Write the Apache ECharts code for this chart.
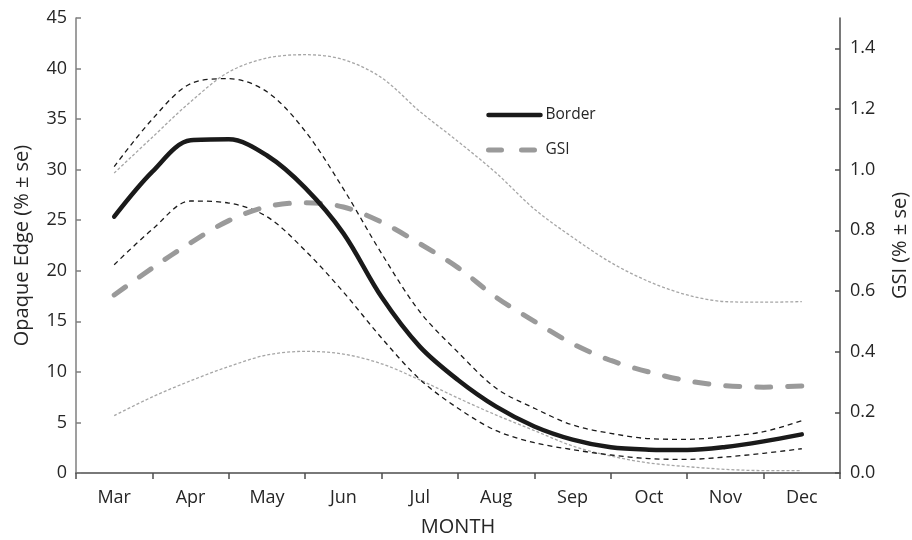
<!DOCTYPE html>
<html>
<head>
<meta charset="utf-8">
<script src="https://cdn.jsdelivr.net/npm/echarts@6/dist/echarts.min.js"></script>
<style>
  html, body { margin: 0; padding: 0; background: #fff; }
  #chart { width: 912px; height: 540px; }
</style>
</head>
<body>
<div id="chart"></div>
<script>
// Month categories shown on the x axis
const months = ['Mar', 'Apr', 'May', 'Jun', 'Jul', 'Aug', 'Sep', 'Oct', 'Nov', 'Dec'];

// Sample positions (month index, mid-month and month boundaries)
const samplePos = [0, 0.5, 1, 1.5, 2, 2.5, 3, 3.5, 4, 4.5, 5, 5.5, 6, 6.5, 7, 7.5, 8, 8.5, 9];

// Opaque edge (border), % with upper/lower standard error bounds
const border      = [25.35, 29.8, 32.9, 33.0, 31.4, 28.2, 23.7, 17.4, 12.5, 9.2, 6.56, 4.6, 3.3, 2.54, 2.31, 2.27, 2.57, 3.13, 3.82];
const borderUpper = [30.3, 35.0, 38.5, 39.0, 37.7, 33.8, 28.1, 21.7, 15.95, 11.94, 8.38, 6.4, 4.75, 3.92, 3.4, 3.33, 3.6, 4.09, 5.17];
const borderLower = [20.6, 24.1, 26.9, 26.7, 25.35, 22.0, 17.9, 13.35, 9.27, 6.4, 4.19, 3.0, 2.31, 1.78, 1.42, 1.35, 1.58, 1.95, 2.4];

// Gonadosomatic index, % with upper/lower standard error bounds
const gsi      = [0.587, 0.676, 0.759, 0.832, 0.878, 0.891, 0.877, 0.827, 0.756, 0.677, 0.579, 0.50, 0.426, 0.371, 0.333, 0.304, 0.288, 0.283, 0.287];
const gsiUpper = [0.989, 1.107, 1.224, 1.322, 1.368, 1.379, 1.363, 1.303, 1.192, 1.093, 0.989, 0.87, 0.777, 0.694, 0.631, 0.587, 0.565, 0.563, 0.565];
const gsiLower = [0.189, 0.251, 0.304, 0.351, 0.389, 0.401, 0.392, 0.36, 0.307, 0.247, 0.191, 0.14, 0.089, 0.056, 0.033, 0.021, 0.012, 0.008, 0.008];

const leftTicks = { min: 0, max: 45, interval: 5 };
const rightTicks = { min: 0, max: 1.5, interval: 0.2 };

const FONT = 'Open Sans';
const TEXT = '#262626';
const BLACK = '#1a1a1a';
const GREY = '#9a9a9a';
const LIGHT = '#a6a6a6';

function pairs(values) {
  return values.map((v, i) => [samplePos[i], v]);
}

function lineSeries(name, values, yAxisIndex, color, style, z) {
  return {
    name: name,
    type: 'line',
    xAxisIndex: 1,
    yAxisIndex: yAxisIndex,
    data: pairs(values),
    smooth: 0.33,
    symbol: 'none',
    showSymbol: false,
    color: color,
    itemStyle: { color: color },
    lineStyle: Object.assign({ color: color }, style),
    z: z,
    silent: true
  };
}

const chart = echarts.init(document.getElementById('chart'), null, { renderer: 'canvas' });

chart.setOption({
  animation: false,
  backgroundColor: '#fff',
  textStyle: { fontFamily: FONT, color: TEXT },
  grid: { left: 76, right: 72, top: 18, bottom: 67, containLabel: false, outerBoundsMode: 'none' },
  legend: {
    orient: 'vertical',
    left: 481,
    top: 102,
    itemWidth: 52,
    itemHeight: 14,
    itemGap: 19,
    itemStyle: { opacity: 0 },
    textStyle: { fontFamily: FONT, fontSize: 15.5, color: TEXT },
    data: [
      { name: 'Border', lineStyle: { color: BLACK, width: 4.5, type: 'solid' }, itemStyle: { opacity: 0 } },
      { name: 'GSI', lineStyle: { color: GREY, width: 5, type: [13, 20], cap: 'round' }, itemStyle: { opacity: 0 } }
    ]
  },
  xAxis: [
    {
      type: 'category',
      data: months,
      boundaryGap: true,
      name: 'MONTH',
      nameLocation: 'middle',
      nameGap: 44,
      nameTextStyle: { fontFamily: FONT, fontSize: 20, color: TEXT },
      axisLine: { onZero: false, lineStyle: { color: '#4d4d4d', width: 1.5 } },
      axisTick: { show: true, length: 6, lineStyle: { color: '#4d4d4d', width: 1.5 } },
      axisLabel: { fontFamily: FONT, fontSize: 18, color: TEXT, margin: 16 },
      splitLine: { show: false }
    },
    {
      // continuous month position used to place the curves
      type: 'value',
      min: -0.5,
      max: 9.5,
      show: false,
      axisLine: { onZero: false }
    }
  ],
  yAxis: [
    {
      type: 'value',
      min: leftTicks.min,
      max: leftTicks.max,
      interval: leftTicks.interval,
      position: 'left',
      name: 'Opaque Edge (% ± se)',
      nameLocation: 'middle',
      nameRotate: 90,
      nameGap: 44,
      nameTextStyle: { fontFamily: FONT, fontSize: 20, color: TEXT },
      axisLine: { show: true, onZero: false, lineStyle: { color: '#7f7f7f', width: 1.5 } },
      axisTick: { show: true, inside: true, length: 5, lineStyle: { color: '#7f7f7f', width: 1.5 } },
      axisLabel: { fontFamily: FONT, fontSize: 18, color: TEXT, margin: 9 },
      splitLine: { show: false }
    },
    {
      type: 'value',
      min: rightTicks.min,
      max: rightTicks.max,
      interval: rightTicks.interval,
      position: 'right',
      name: 'GSI (% ± se)',
      nameLocation: 'middle',
      nameRotate: 90,
      nameGap: 50,
      nameTextStyle: { fontFamily: FONT, fontSize: 20, color: TEXT },
      axisLine: { show: true, onZero: false, lineStyle: { color: '#4d4d4d', width: 1.5 } },
      axisTick: { show: true, inside: true, length: 5, lineStyle: { color: '#4d4d4d', width: 1.5 } },
      axisLabel: {
        fontFamily: FONT, fontSize: 18, color: TEXT, margin: 10,
        showMaxLabel: false,
        formatter: v => v.toFixed(1)
      },
      splitLine: { show: false }
    }
  ],
  series: [
    lineSeries('GSI upper', gsiUpper, 1, LIGHT, { width: 1.3, type: [3, 2] }, 1),
    lineSeries('GSI lower', gsiLower, 1, LIGHT, { width: 1.3, type: [3, 2] }, 1),
    lineSeries('Border upper', borderUpper, 0, BLACK, { width: 1.3, type: [5, 4] }, 2),
    lineSeries('Border lower', borderLower, 0, BLACK, { width: 1.3, type: [5, 4] }, 2),
    lineSeries('GSI', gsi, 1, GREY, { width: 5, type: [14, 17], cap: 'round' }, 3),
    lineSeries('Border', border, 0, BLACK, { width: 4.5, cap: 'round' }, 4)
  ]
});
</script>
</body>
</html>
